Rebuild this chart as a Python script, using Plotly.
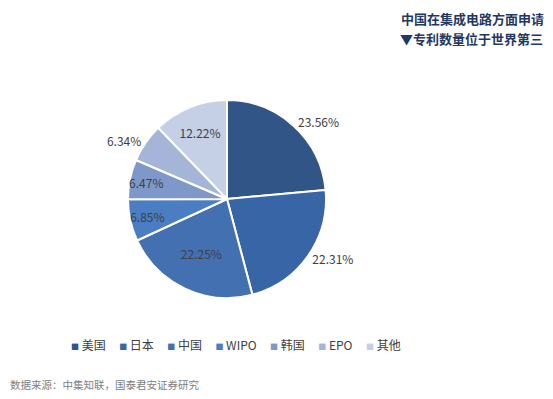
import plotly.graph_objects as go

categories = ["美国", "日本", "中国", "WIPO", "韩国", "EPO", "其他"]
shares = [23.56, 22.31, 22.25, 6.85, 6.47, 6.34, 12.22]
label_pos = ["outside", "outside", "inside", "inside", "inside", "outside", "inside"]
colors = ["#305586", "#3865A5", "#4370B1", "#4A7DC2", "#7E98C9", "#A5B5D8", "#C5CFE6"]

title_lines = ["中国在集成电路方面申请", "▼专利数量位于世界第三"]
source_text = "数据来源：中集知联，国泰君安证券研究"

W, H = 553, 399
FONT = "Noto Sans CJK SC"
# pie placement in figure pixels
cx, cy, r = 219, 191, 99

fig = go.Figure(go.Pie(
    labels=categories,
    values=shares,
    sort=False,
    direction="clockwise",
    rotation=0,
    marker=dict(colors=colors, line=dict(color="white", width=2)),
    texttemplate="%{value:.2f}%",
    textposition=label_pos,
    textfont=dict(family=FONT, size=12, color="#404040"),
    insidetextorientation="horizontal",
    showlegend=False,
    domain=dict(x=[(cx - r) / W, (cx + r) / W], y=[1 - (cy + r) / H, 1 - (cy - r) / H]),
))

# legend row built from the categories and colors
nb = "\u00a0"
items = []
for c, col in zip(categories, colors):
    items.append(f"<span style='color:{col};font-size:8px'>■</span>{nb}{c}")
legend_text = (nb * 5).join(items)

fig.update_layout(
    width=W, height=H,
    margin=dict(l=0, r=0, t=0, b=0, autoexpand=False),
    paper_bgcolor="white",
    plot_bgcolor="white",
    font=dict(family=FONT, color="#404040"),
    showlegend=False,
    uniformtext=dict(minsize=12, mode="show"),
    annotations=[
        dict(text="<b>" + title_lines[0] + "</b>", x=537 / W, y=1, xref="paper", yref="paper",
             xanchor="right", yanchor="top", showarrow=False, borderpad=0,
             font=dict(size=13, color="#1F3864", family=FONT)),
        dict(text="<b>" + title_lines[1] + "</b>", x=537 / W, y=1 - 30 / H, xref="paper", yref="paper",
             xanchor="right", yanchor="middle", showarrow=False,
             font=dict(size=13, color="#1F3864", family=FONT)),
        dict(text=legend_text, x=228 / W, y=1 - 336 / H, xref="paper", yref="paper",
             xanchor="center", yanchor="middle", showarrow=False,
             font=dict(size=12, color="#404040", family=FONT)),
        dict(text=source_text, x=0, y=1 - 376 / H, xref="paper", yref="paper",
             xanchor="left", yanchor="middle", showarrow=False,
             font=dict(size=10.5, color="#808080", family=FONT)),
    ],
)

fig.write_html("out.html")
